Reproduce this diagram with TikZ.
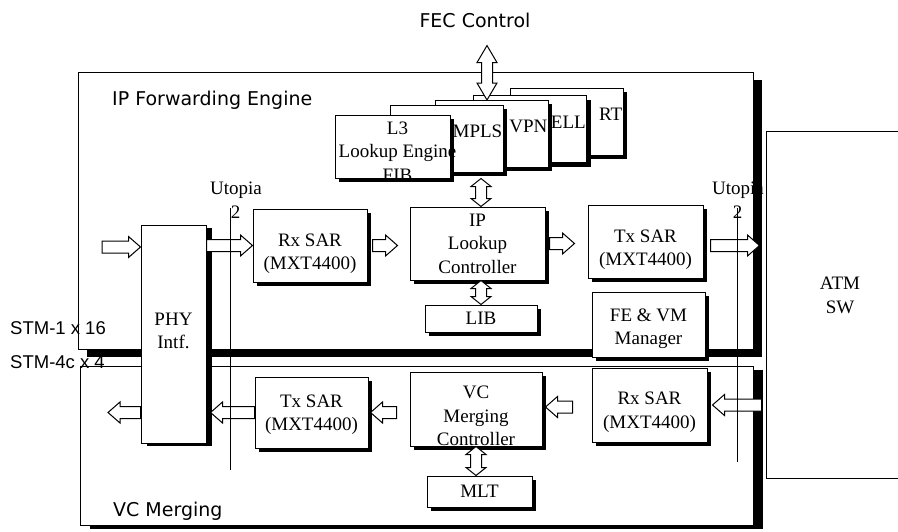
\documentclass[tikz,border=0pt]{standalone}
\usepackage{fontspec}
\setmainfont{Liberation Serif}
\newfontfamily\dejavu{DejaVu Sans}
\newfontfamily\arialfont{Liberation Sans}
\usetikzlibrary{calc,shadows}
\newcommand\cellfont{\fontsize{19}{23.5}\selectfont}
\tikzset{
  boxshadow/.style 2 args={drop shadow={shadow xshift=#1,shadow yshift=-#2,fill=black,opacity=1}},
  cellbox/.style={draw=black,line width=1pt,fill=white,align=center,inner sep=1pt,font=\cellfont},
  unitbox/.style={cellbox,boxshadow={3.5pt}{3.5pt}},
  stackbox/.style={cellbox,boxshadow={4pt}{4pt},minimum width=113pt,minimum height=67pt},
  celltext/.style={font=\cellfont,inner sep=1pt,align=center},
  lowtext/.style={celltext,anchor=center,yshift=#1},
  stacklbl/.style={celltext,anchor=east,yshift=7pt},
  groupbox/.style={draw=black,line width=1pt,fill=white,inner sep=0pt},
  grouplbl/.style={font=\dejavu\fontsize{19}{23}\selectfont,inner sep=0pt},
  portlbl/.style={font=\arialfont\fontsize{18.5}{22}\selectfont,inner sep=0pt,anchor=west},
  bus/.style={draw=black,line width=0.7pt},
  blockarrow/.style n args={3}{draw=black,fill=white,line width=1pt,line join=miter,
    to path={let \p1=(\tikztostart),\p2=(\tikztotarget),
      \n1={veclen(\x2-\x1,\y2-\y1)},\n2={(\x2-\x1)/\n1},\n3={(\y2-\y1)/\n1} in
      ({\x1-#1*\n3},{\y1+#1*\n2})
      -- ({\x2-#3*\n2-#1*\n3},{\y2-#3*\n3+#1*\n2})
      -- ({\x2-#3*\n2-#2*\n3},{\y2-#3*\n3+#2*\n2})
      -- (\p2)
      -- ({\x2-#3*\n2+#2*\n3},{\y2-#3*\n3-#2*\n2})
      -- ({\x2-#3*\n2+#1*\n3},{\y2-#3*\n3-#1*\n2})
      -- ({\x1+#1*\n3},{\y1-#1*\n2})
      -- cycle}},
  dblarrow/.style n args={3}{draw=black,fill=white,line width=1pt,line join=miter,
    to path={let \p1=(\tikztostart),\p2=(\tikztotarget),
      \n1={veclen(\x2-\x1,\y2-\y1)},\n2={(\x2-\x1)/\n1},\n3={(\y2-\y1)/\n1} in
      (\p1)
      -- ({\x1+#3*\n2-#2*\n3},{\y1+#3*\n3+#2*\n2})
      -- ({\x1+#3*\n2-#1*\n3},{\y1+#3*\n3+#1*\n2})
      -- ({\x2-#3*\n2-#1*\n3},{\y2-#3*\n3+#1*\n2})
      -- ({\x2-#3*\n2-#2*\n3},{\y2-#3*\n3+#2*\n2})
      -- (\p2)
      -- ({\x2-#3*\n2+#2*\n3},{\y2-#3*\n3-#2*\n2})
      -- ({\x2-#3*\n2+#1*\n3},{\y2-#3*\n3-#1*\n2})
      -- ({\x1+#3*\n2+#1*\n3},{\y1+#3*\n3-#1*\n2})
      -- ({\x1+#3*\n2+#2*\n3},{\y1+#3*\n3-#2*\n2})
      -- cycle}},
  hollow/.style={blockarrow={6}{10.5}{12}},
  twoway/.style={dblarrow={5.5}{10}{8}},
  fecarrow/.style={dblarrow={5.5}{10}{17}}
}

\begin{document}
\begin{tikzpicture}[x=1pt,y=1pt]
  \useasboundingbox (0,0) rectangle (898,-531);

  % engine boxes and switch
  \node[groupbox,boxshadow={9pt}{8pt},minimum width=675pt,minimum height=277pt] (fwd) at (415.5,-210.5) {};
  \node[groupbox,boxshadow={10pt}{4pt},minimum width=673pt,minimum height=159pt] (vcm) at (416.5,-445.5) {};
  \node[groupbox,minimum width=148pt,minimum height=347pt,
    label={[lowtext=9pt]center:ATM\\SW}] (atm) at (840,-304.5) {};
  \node[grouplbl,anchor=west] (fwdlbl) at (112,-100) {IP Forwarding Engine};
  \node[grouplbl,anchor=west] (vcmlbl) at (113,-511) {VC Merging};

  % lookup tables, back to front
  \node[stackbox,label={[stacklbl]east:RT}] (rt) at (566.5,-121.5) {};
  \node[stackbox,label={[stacklbl]east:ELL}] (ell) at (530,-129) {};
  \node[stackbox,label={[stacklbl]east:VPN}] (vpn) at (491.5,-133.5) {};
  \node[stackbox,label={[stacklbl]east:MPLS}] (mpls) at (446.5,-138.5) {};
  \node[stackbox,minimum width=115pt,minimum height=63pt,
    label={[lowtext=-5pt,xshift=5pt]center:L3\\Lookup Engine\\FIB}] (l3) at (392.5,-146.5) {};

  \node[grouplbl] (fec) at (475,-20) {FEC Control};
  \coordinate (fecend) at (487,-100);
  \draw[fecarrow] ($(fec.south -| fecend)+(0,-18)$) to (fecend);

  % units
  \node[cellbox,boxshadow={6pt}{3pt},minimum width=65pt,minimum height=218pt,
    label={[lowtext=3pt]center:PHY\\Intf.}] (phy) at (173.5,-334) {};
  \node[unitbox,minimum width=114pt,minimum height=73pt,
    label={[lowtext=-8pt]center:Rx SAR\\(MXT4400)}] (rxsar) at (310,-245.5) {};
  \node[unitbox,minimum width=135pt,minimum height=73pt] (iplc) at (477.5,-243.5) {IP\\Lookup\\Controller};
  \node[unitbox,minimum width=115pt,minimum height=73pt,
    label={[lowtext=-8pt]center:Tx SAR\\(MXT4400)}] (txsar) at (645.5,-241.5) {};
  \node[unitbox,minimum width=112pt,minimum height=27pt] (lib) at (481,-318.5) {LIB};
  \node[unitbox,minimum width=113pt,minimum height=65pt,
    label={[lowtext=-4pt]center:FE \& VM\\Manager}] (fevm) at (648.5,-324.5) {};
  \node[unitbox,minimum width=113pt,minimum height=71pt,
    label={[lowtext=-2pt]center:Tx SAR\\(MXT4400)}] (tx2) at (311.5,-412.5) {};
  \node[unitbox,minimum width=132pt,minimum height=74pt,
    label={[lowtext=-7pt]center:VC\\Merging\\Controller}] (vcmc) at (476,-409) {};
  \node[unitbox,minimum width=115pt,minimum height=74pt,
    label={[lowtext=-7pt]center:Rx SAR\\(MXT4400)}] (rx2) at (649.5,-405) {};
  \node[unitbox,minimum width=105pt,minimum height=31pt] (mlt) at (479.5,-491.5) {MLT};

  % data paths
  \coordinate (phyin) at (102,-247);
  \coordinate (phyout) at (108,-412.5);
  \draw[hollow] (phyin) to (phyin -| phy.west);
  \draw[hollow] (phy.east |- rxsar.west) to (rxsar.west);
  \draw[hollow] ($(rxsar.east)+(5,0)$) to ($(iplc.west |- rxsar.east)+(-12,0)$);
  \draw[hollow] ($(iplc.east)+(4,0)$) to ($(txsar.west |- iplc.east)+(-13,0)$);
  \draw[hollow] ($(txsar.east |- rxsar.east)+(7,0)$) to ($(atm.west |- rxsar.east)+(-6,0)$);
  \draw[hollow] ($(atm.west |- rx2.east)+(-4,0)$) to ($(rx2.east)+(5,0)$);
  \draw[hollow] ($(rx2.west)+(-19,-2)$) to ($(vcmc.east |- rx2.west)+(3,-2)$);
  \draw[hollow] ($(vcmc.west |- tx2.east)+(-13,0)$) to ($(tx2.east)+(2,0)$);
  \draw[hollow] (tx2.west) to ($(phy.east |- tx2.west)+(4,0)$);
  \draw[hollow] (phy.west |- phyout) to (phyout);

  \draw[twoway] (lib.north |- l3.south) to (lib.north |- iplc.north);
  \draw[twoway] (lib.north |- iplc.south) to (lib.north);
  \draw[twoway] (vcmc.south) to (vcmc.south |- mlt.north);

  % utopia 2 interfaces
  \coordinate (utl1) at (230,-208);
  \coordinate (utl2) at (230,-470);
  \coordinate (utr1) at (737,-208);
  \coordinate (utr2) at (737,-462);
  \draw[bus] (utl1) -- (utl2);
  \draw[bus] (utr1) -- (utr2);
  \node[celltext,inner sep=0pt] (utlname) at (236,-190) {Utopia};
  \node[celltext,inner sep=0pt] (utlnum) at (235.5,-212) {2};
  \node[celltext,inner sep=0pt] (utrname) at (738,-190) {Utopia};
  \node[celltext,inner sep=0pt] (utrnum) at (737.5,-212) {2};

  \node[portlbl] (stm1) at (10,-328.5) {STM-1 x 16};
  \node[portlbl] (stm4) at (10,-362.5) {STM-4c x 4};
\end{tikzpicture}
\end{document}
